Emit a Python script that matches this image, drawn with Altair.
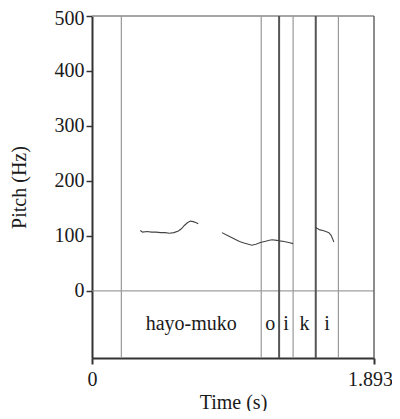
import altair as alt
import pandas as pd

# Interval boundaries (s) and their line weight
bounds = [0.197, 1.136, 1.256, 1.350, 1.502, 1.654]
bound_style = ["light", "light", "dark", "light", "dark", "light"]
tier_labels = ["hayo-muko", "o", "i", "k", "i"]

# Pitch contour segments
seg1_t = [0.324, 0.34, 0.37, 0.40, 0.43, 0.46, 0.49, 0.52, 0.55, 0.58, 0.60, 0.62, 0.64, 0.66, 0.68, 0.70, 0.713]
seg1_f = [110, 107, 108, 107, 107, 106, 106, 105, 106, 109, 113, 119, 124, 127, 126, 124, 122]
seg2_t = [0.872, 0.90, 0.93, 0.96, 0.99, 1.02, 1.05, 1.073, 1.10, 1.13, 1.16, 1.19, 1.21, 1.24, 1.26, 1.29, 1.32, 1.35]
seg2_f = [106, 102, 98, 94, 90, 87, 85, 83, 85, 88, 90, 92, 93, 92, 91, 90, 88, 86]
seg3_t = [1.498, 1.51, 1.53, 1.55, 1.57, 1.59, 1.605, 1.615, 1.623]
seg3_f = [116, 114, 111, 110, 108, 106, 101, 95, 89]

x_end = 1.893
y_ticks = [0, 100, 200, 300, 400, 500]
x_ticks = [0, 1.893]

FONT = "Liberation Serif"
FS = 20
W, H = 282, 342

xs = alt.Scale(domain=[0, x_end], nice=False, zero=False)
ys = alt.Scale(domain=[-122, 500], nice=False, zero=False)

pitch = pd.DataFrame({
    "t": seg1_t + seg2_t + seg3_t,
    "f": seg1_f + seg2_f + seg3_f,
    "seg": [1] * len(seg1_t) + [2] * len(seg2_t) + [3] * len(seg3_t),
})
bdf = pd.DataFrame({"t": bounds, "style": bound_style})
lab_df = pd.DataFrame({
    "mid": [(bounds[i] + bounds[i + 1]) / 2 for i in range(len(tier_labels))],
    "label": tier_labels,
    "y": [-60] * len(tier_labels),
})

x_axis = alt.Axis(
    values=x_ticks, title="Time (s)", grid=False, labelExpr="datum.value == 0 ? '0' : '1.893'",
    labelFlush=False, labelOverlap=False,
    labelOffset={"condition": {"test": "datum.value > 1", "value": -4}, "value": 0},
    labelFont=FONT, labelFontSize=FS, titleFont=FONT, titleFontSize=FS, titleFontWeight="normal",
    labelColor="#1a1a1a", titleColor="#1a1a1a", domainColor="#333", domainWidth=2, tickColor="#333",
    tickWidth=2, tickSize=6, labelPadding=5, titlePadding=3,
)
y_axis = alt.Axis(
    values=y_ticks, title="Pitch (Hz)", grid=False, format="d", labelFlush=False, labelOverlap=False,
    labelOffset={"condition": {"test": "datum.value >= 500", "value": 2}, "value": 0},
    labelFont=FONT, labelFontSize=FS, titleFont=FONT, titleFontSize=FS, titleFontWeight="normal",
    labelColor="#1a1a1a", titleColor="#1a1a1a", domainColor="#333", domainWidth=2, tickColor="#333",
    tickWidth=1.5, tickSize=6, labelPadding=2, titleX=-63,
)

base = alt.Chart(pitch)

line = base.mark_line(color="#444", strokeWidth=1.1).encode(
    x=alt.X("t:Q", scale=xs, axis=x_axis),
    y=alt.Y("f:Q", scale=ys, axis=y_axis),
    detail="seg:N",
)

vlines = alt.Chart(bdf).mark_rule().encode(
    x=alt.X("t:Q", scale=xs),
    color=alt.Color("style:N", scale=alt.Scale(domain=["light", "dark"], range=["#999999", "#555555"]), legend=None),
    strokeWidth=alt.StrokeWidth("style:N", scale=alt.Scale(domain=["light", "dark"], range=[1.2, 2]), legend=None),
)

zero_df = pd.DataFrame({"f": [0]})
zero_line = alt.Chart(zero_df).mark_rule(color="#888", strokeWidth=1).encode(y=alt.Y("f:Q", scale=ys))

top_df = pd.DataFrame({"f": [500]})
top_line = alt.Chart(top_df).mark_rule(color="#888", strokeWidth=1.5).encode(y=alt.Y("f:Q", scale=ys))

right_df = pd.DataFrame({"t": [x_end]})
right_line = alt.Chart(right_df).mark_rule(color="#666", strokeWidth=1.5).encode(x=alt.X("t:Q", scale=xs))

labels = alt.Chart(lab_df).mark_text(font=FONT, fontSize=FS, color="#1a1a1a", baseline="middle").encode(
    x=alt.X("mid:Q", scale=xs),
    y=alt.Y("y:Q", scale=ys),
    text="label:N",
)

chart = alt.layer(zero_line, top_line, right_line, vlines, line, labels).properties(
    width=W, height=H,
    autosize=alt.AutoSizeParams(type="none"),
    padding={"left": 84, "top": 8, "right": 18, "bottom": 53},
).configure_view(stroke=None).resolve_scale(color="independent")

chart.save("out.html", embed_options={"renderer": "svg", "actions": False})
